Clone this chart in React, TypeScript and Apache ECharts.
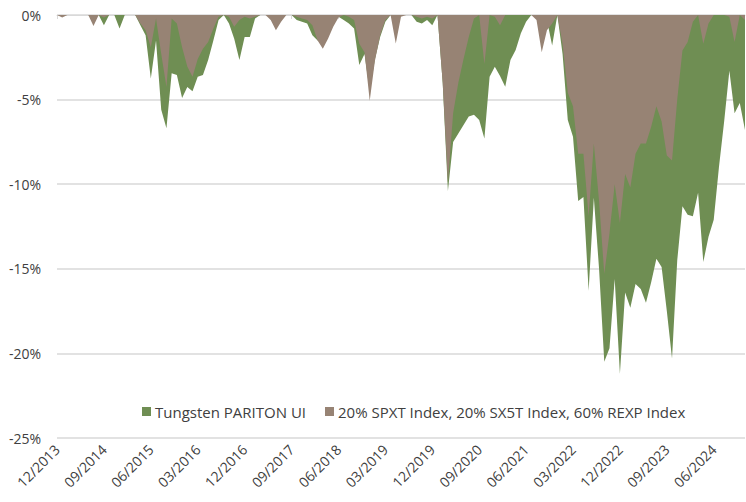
import React, { useEffect, useRef } from "react";
import * as echarts from "echarts";

// Monthly drawdowns (%) from 12/2013 to 12/2024
const START_YEAR = 2013;
const START_MONTH = 12;
const MONTH_COUNT = 133;

const months: string[] = [];
for (let k = 0; k < MONTH_COUNT; k++) {
  const m0 = START_MONTH - 1 + k;
  const y = START_YEAR + Math.floor(m0 / 12);
  const m = (m0 % 12) + 1;
  months.push((m < 10 ? "0" : "") + m + "/" + y);
}

const seriesNames = [
  "Tungsten PARITON UI",
  "20% SPXT Index, 20% SX5T Index, 60% REXP Index",
];

const tungsten = [
  0, 0, 0, 0, 0, 0, 0, -0.1, 0, -0.6, 0, 0, -0.8, 0, 0, 0,
  -0.6, -1.2, -3.75, -1.5, -5.6, -6.7, -3.45, -3.55, -4.9, -4.25, -4.5, -3.65, -3.55, -2.66, -1.5, -0.3,
  0, -0.5, -1.4, -2.66, -1.3, -1.3, -0.2, 0, 0, 0, 0, 0, 0, 0, -0.3, -0.4,
  -0.5, -1.2, -1.5, -1.6, -1.0, -0.4, -0.1, -0.3, -0.5, -0.8, -2.95, -2.3, -4.5, -2.6, -1.3, -0.4,
  0, -0.5, 0, 0, 0, -0.4, -0.5, -0.3, -0.6, 0, -4.0, -10.4, -7.5, -7.0, -6.5, -6.0,
  -5.9, -6.2, -7.3, -3.65, -3.06, -3.6, -4.24, -2.66, -2.07, -1.08, -0.4, 0, 0, -0.6, -0.3, -1.8,
  0, -2.3, -6.2, -7.2, -11.0, -10.75, -16.3, -10.8, -15.0, -20.5, -19.7, -15.6, -21.2, -16.4, -17.3, -15.9,
  -16.2, -17.0, -15.8, -14.4, -14.9, -17.5, -20.3, -14.5, -11.3, -11.8, -11.9, -10.5, -14.6, -13.1, -12.1, -9.0,
  -6.3, -3.3, -5.8, -5.2, -6.8,
];

const benchmark = [
  0, -0.15, 0, 0, 0, 0, 0, -0.65, 0, -0.15, 0, 0, 0, 0, 0, 0,
  -0.5, -0.9, -1.9, -0.2, -2.3, -4.25, -0.2, -0.5, -1.9, -3.05, -3.65, -2.6, -2.0, -1.6, -0.8, -0.1,
  0, -0.1, -0.7, -0.3, -0.1, -0.2, -0.1, 0, 0, -0.3, -0.9, -0.4, 0, 0, -0.1, -0.2,
  -0.3, -0.6, -1.5, -2.0, -1.4, -0.7, -0.15, 0, -0.1, -0.3, -1.7, -2.2, -5.07, -2.7, -1.2, -0.3,
  0, -1.68, -0.1, 0, 0, -0.1, -0.2, -0.1, -0.2, 0, -4.0, -9.9, -5.8, -4.0, -2.6, -1.3,
  -0.2, 0, -2.9, 0, -0.1, -0.6, 0, 0, 0, 0, 0, 0, -0.3, -2.2, -0.9, -0.5,
  0, -1.7, -4.6, -5.4, -8.2, -8.2, -11.9, -7.6, -11.0, -15.3, -12.9, -10.0, -12.3, -9.4, -10.2, -8.2,
  -7.6, -7.6, -6.6, -5.4, -6.3, -8.3, -8.6, -5.0, -2.1, -1.6, -0.4, 0, -1.7, -0.5, 0, 0,
  0, -0.1, -1.6, 0, -0.3,
];

const yTicks = { min: -25, max: 0, interval: 5 };

const GREEN = "#6f8e53";
const BROWN = "#978374";
const FONT = "'Open Sans', 'Noto Sans', sans-serif";

export default function App() {
  const ref = useRef<HTMLDivElement>(null);
  useEffect(() => {
    document.body.style.margin = "0";
    if (!ref.current) return;
    const chart = echarts.init(ref.current, undefined, { renderer: "svg" });
    chart.setOption({
      animation: false,
      backgroundColor: "#ffffff",
      textStyle: { fontFamily: FONT },
      grid: { left: 57, right: 1, top: 15, bottom: 64, containLabel: false },
      legend: {
        left: 137,
        top: 399,
        itemWidth: 9,
        itemHeight: 9,
        itemGap: 19,
        icon: "rect",
        textStyle: { fontFamily: FONT, fontSize: 15, color: "#404040", padding: [0, 0, 0, -1] },
        data: seriesNames,
      },
      xAxis: [
        {
          type: "category",
          data: months,
          boundaryGap: false,
          position: "bottom",
          axisLine: { show: false },
          axisTick: { show: false },
          axisLabel: {
            interval: 8,
            rotate: 45,
            fontSize: 14,
            fontFamily: FONT,
            color: "#404040",
            margin: 9,
          },
        },
        {
          type: "category",
          data: months,
          boundaryGap: false,
          position: "top",
          axisLine: { show: true, lineStyle: { color: "#d9d9d9", width: 1 } },
          axisTick: {
            show: true,
            interval: 8,
            inside: true,
            length: 4,
            lineStyle: { color: "#d9d9d9" },
          },
          axisLabel: { show: false },
        },
      ],
      yAxis: {
        type: "value",
        min: yTicks.min,
        max: yTicks.max,
        interval: yTicks.interval,
        axisLine: { show: false },
        axisTick: { show: false },
        axisLabel: {
          formatter: "{value}%",
          fontSize: 14,
          fontFamily: FONT,
          color: "#404040",
          margin: 16,
        },
        splitLine: { lineStyle: { color: "#d9d9d9", width: 1.5 } },
      },
      series: [
        {
          name: seriesNames[0],
          type: "line",
          data: tungsten,
          showSymbol: false,
          symbol: "none",
          lineStyle: { width: 0 },
          itemStyle: { color: GREEN },
          areaStyle: { color: GREEN, opacity: 1 },
          z: 2,
        },
        {
          name: seriesNames[1],
          type: "line",
          data: benchmark,
          showSymbol: false,
          symbol: "none",
          lineStyle: { width: 0 },
          itemStyle: { color: BROWN },
          areaStyle: { color: BROWN, opacity: 1 },
          z: 3,
        },
      ],
    });
    return () => chart.dispose();
  }, []);
  return <div ref={ref} style={{ width: 746, height: 502 }} />;
}
